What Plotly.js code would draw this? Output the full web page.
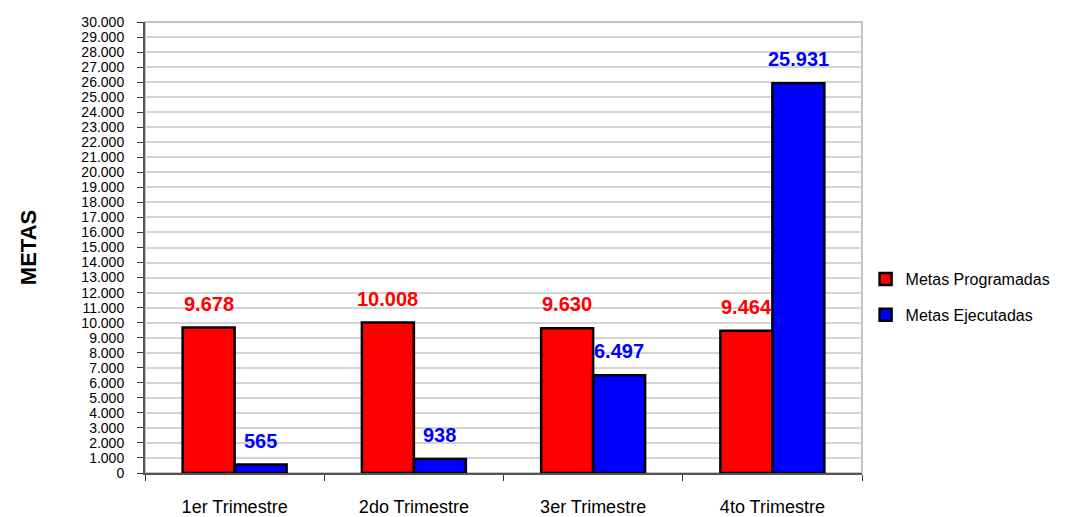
<!DOCTYPE html>
<html>
<head>
<meta charset="utf-8">
<script src="https://cdn.plot.ly/plotly-3.0.1.min.js"></script>
<style>html,body{margin:0;padding:0;background:#fff;}#chart{width:1071px;height:517px;}</style>
</head>
<body>
<div id="chart"></div>
<script>
const categories = ["1er Trimestre", "2do Trimestre", "3er Trimestre", "4to Trimestre"];
const programadas = [9678, 10008, 9630, 9464];
const ejecutadas = [565, 938, 6497, 25931];
const seriesNames = ["Metas Programadas", "Metas Ejecutadas"];
const yTitle = "METAS";

const FONT = '"Liberation Sans", Arial, sans-serif';
const RED = '#FF0000', BLUE = '#0000FF';

function fmt(v){ return v.toString().replace(/\B(?=(\d{3})+(?!\d))/g, '.'); }

const traces = [
  {type:'bar', name:seriesNames[0], x:categories, y:programadas, legendgroup:'a',
   marker:{color:RED, line:{color:'#000', width:2.5}}, hoverinfo:'none'},
  {type:'bar', name:seriesNames[1], x:categories, y:ejecutadas, legendgroup:'b',
   marker:{color:BLUE, line:{color:'#000', width:2.5}}, hoverinfo:'none'}
];

const annotations = [];
categories.forEach((c,i)=>{
  annotations.push({x:c, y:programadas[i], xref:'x', yref:'y', text:'<b>'+fmt(programadas[i])+'</b>',
    showarrow:false, yanchor:'bottom', xshift:-26, yshift:11, font:{family:FONT, size:20, color:RED}});
  annotations.push({x:c, y:ejecutadas[i], xref:'x', yref:'y', text:'<b>'+fmt(ejecutadas[i])+'</b>',
    showarrow:false, yanchor:'bottom', xshift:26, yshift:11, font:{family:FONT, size:20, color:BLUE}});
});

const layout = {
  width:1071, height:517,
  margin:{l:145, r:209, t:22, b:44, autoexpand:false},
  paper_bgcolor:'#fff', plot_bgcolor:'#fff',
  separators:',.',
  font:{family:FONT, color:'#000'},
  barmode:'group', bargap:0.42, bargroupgap:0,
  showlegend:true,
  legend:{x:1.005, xanchor:'left', y:0.39, yanchor:'middle', traceorder:'grouped', tracegroupgap:12,
    font:{family:FONT, size:16, color:'#000'}, bgcolor:'rgba(0,0,0,0)', itemwidth:30},
  xaxis:{type:'category', automargin:false, showgrid:false, showline:true, linecolor:'#555', linewidth:2,
    ticks:'outside', tickson:'boundaries', ticklen:6, tickcolor:'#333', tickwidth:1,
    tickfont:{family:FONT, size:18, color:'#000'}, ticklabelstandoff:16},
  yaxis:{range:[0,30000], dtick:1000, tickformat:',d', automargin:false,
    showgrid:true, gridcolor:'#d4d4d4', gridwidth:2, zeroline:false,
    showline:true, linecolor:'#555', linewidth:2, ticks:'outside', ticklen:6, tickcolor:'#333', tickwidth:1,
    tickfont:{family:FONT, size:14, color:'#000'}, ticklabelstandoff:10,
    title:{text:'<b>METAS</b>', font:{family:FONT, size:22, color:'#000'}, standoff:39}},
  shapes:[{type:'rect', xref:'paper', yref:'paper', x0:0, x1:1, y0:0, y1:1, line:{color:'#c4c4c4', width:2}, layer:'below'}],
  annotations:annotations
};

Plotly.newPlot('chart', traces, layout, {displayModeBar:false, staticPlot:true});
</script>
</body>
</html>
